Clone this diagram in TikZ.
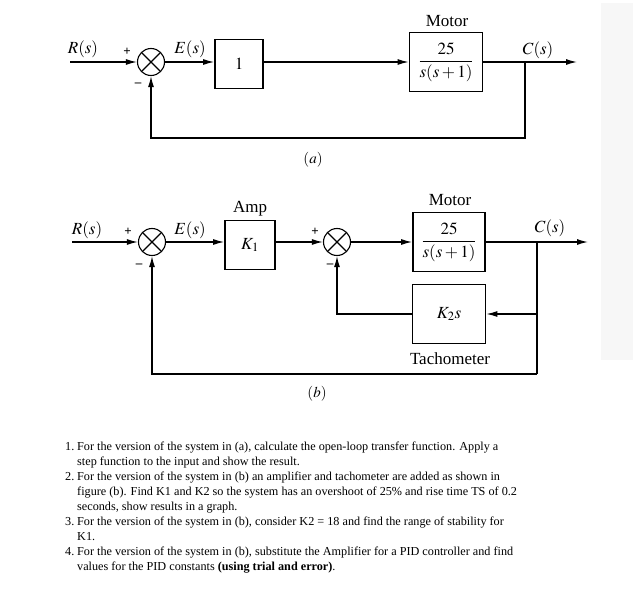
\documentclass[tikz,border=0pt]{standalone}
\usepackage{mathptmx}
\usepackage{fontspec}
\setmainfont{Liberation Serif}
\usetikzlibrary{arrows.meta}

\tikzset{
  block/.style={draw, line width=1.6pt, inner sep=0pt, font=\fontsize{17}{19}\selectfont},
  sumj/.style={draw, circle, line width=1.1pt, minimum size=27pt, inner sep=0pt,
    path picture={\draw[line width=1.1pt] (path picture bounding box.north west) -- (path picture bounding box.south east)
      (path picture bounding box.north east) -- (path picture bounding box.south west);}},
  lbl/.style={font=\fontsize{17}{19}\selectfont, inner sep=0pt},
  sgn/.style={font=\fontsize{13}{13}\selectfont\bfseries, inner sep=0pt},
  conn/.style={line width=1.3pt},
  >={Latex[length=11pt,width=6pt]}
}

\begin{document}
\begin{tikzpicture}[x=1pt,y=-1pt]
        \useasboundingbox (0,0) rectangle (633,589);
        \fill[black!3] (601,3) rectangle (633,360);

        \coordinate (ina) at (70,62);
        \node[sumj] (sa) at (151,62) {};
        \node[block, minimum width=48pt, minimum height=49pt] (g1) at (239,64) {$1$};
        \node[block, minimum width=73pt, minimum height=59pt] (ma) at (446,62) {$\displaystyle\frac{25}{s(s+1)}$};
        \coordinate (outa) at (577,62);
        \coordinate (bra) at (525,62);
        \coordinate (fba) at (525,138);
        \node[lbl] (ra) at (83,49) {$R(s)$};
        \node[lbl] (ea) at (190,49) {$E(s)$};
        \node[lbl] (ca) at (538,50) {$C(s)$};
        \node[lbl] (mota) at (447,21) {Motor};
        \node[sgn] (pa) at (127,52) {+};
        \node[sgn] (na) at (138,85) {–};
        \node[lbl, font=\fontsize{15}{17}\selectfont] (capa) at (313,160) {$(a)$};

        \draw[conn,->] (ina) -- (sa.west);
        \draw[conn,->] (sa.east) -- (sa.east -| g1.west);
        \draw[conn,->] (g1.east |- sa) -- (ma.west);
        \draw[conn,->] (ma.east) -- (outa);
        \draw[conn,->] (bra) -- (fba) -| (sa.south);

        \coordinate (inb) at (72,242);
        \node[sumj] (sb1) at (152,242) {};
        \node[block, minimum width=50pt, minimum height=49pt] (amp) at (250,245) {$K_1$};
        \node[sumj] (sb2) at (337,242) {};
        \node[block, minimum width=72pt, minimum height=59pt] (mb) at (449,242) {$\displaystyle\frac{25}{s(s+1)}$};
        \node[block, minimum width=73pt, minimum height=59pt] (tach) at (449,314) {$K_2s$};
        \coordinate (outb) at (588,242);
        \coordinate (brb) at (537,242);
        \coordinate (fbb) at (537,374);
        \node[lbl] (rb) at (87,230) {$R(s)$};
        \node[lbl] (eb) at (190,230) {$E(s)$};
        \node[lbl] (cb) at (550,228) {$C(s)$};
        \node[lbl] (ampl) at (250,209) {Amp};
        \node[lbl] (motb) at (450,200) {Motor};
        \node[lbl] (tachl) at (450,359) {Tachometer};
        \node[sgn] (pb1) at (128,232) {+};
        \node[sgn] (nb1) at (139,266) {–};
        \node[sgn] (pb2) at (315,232) {+};
        \node[sgn] (nb2) at (330,266) {–};
        \node[lbl, font=\fontsize{15}{17}\selectfont] (capb) at (317,394) {$(b)$};

        \draw[conn,->] (inb) -- (sb1.west);
        \draw[conn,->] (sb1.east) -- (sb1.east -| amp.west);
        \draw[conn,->] (amp.east |- sb2) -- (sb2.west);
        \draw[conn,->] (sb2.east) -- (mb.west);
        \draw[conn,->] (mb.east) -- (outb);
        \draw[conn] (brb) -- (fbb);
        \draw[conn,->] (brb |- tach) -- (tach.east);
        \draw[conn,->] (tach.west) -| (sb2.south);
        \draw[conn,->] (fbb) -| (sb1.south);

        \node[anchor=north west, inner sep=0pt, font=\fontsize{12.2}{15}\selectfont] (tasks) at (65,440) {%
          \begin{tabular}{@{}l@{}l@{}}
          \makebox[12pt][l]{1.} & For the version of the system in (a), calculate the open-loop transfer function. Apply a\\
           & step function to the input and show the result.\\
          \makebox[12pt][l]{2.} & For the version of the system in (b) an amplifier and tachometer are added as shown in\\
           & figure (b). Find K1 and K2 so the system has an overshoot of 25\% and rise time TS of 0.2\\
           & seconds, show results in a graph.\\
          \makebox[12pt][l]{3.} & For the version of the system in (b), consider K2 = 18 and find the range of stability for\\
           & K1.\\
          \makebox[12pt][l]{4.} & For the version of the system in (b), substitute the Amplifier for a PID controller and find\\
           & values for the PID constants \textbf{(using trial and error)}.
          \end{tabular}};
    \end{tikzpicture}
\end{document}
